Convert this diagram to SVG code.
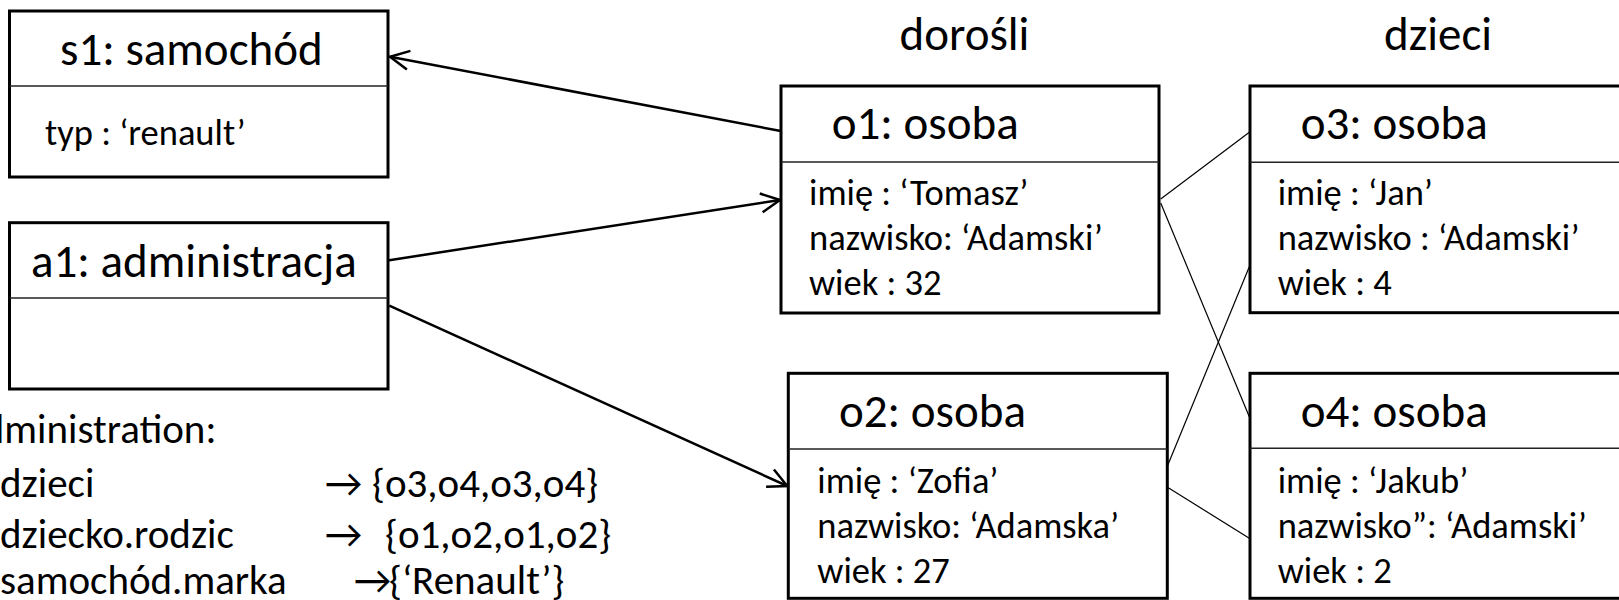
<svg xmlns="http://www.w3.org/2000/svg" width="1619" height="600" viewBox="0 0 1619 600">
<style>
text { font-family: Carlito, Calibri, Lato, "Liberation Sans", sans-serif; fill: #000; }
.box { fill: #fff; stroke: #000; stroke-width: 3; }
.div { stroke: #222; stroke-width: 1.6; }
.title { font-size: 47px; }
.body { font-size: 36.5px; }
.hdr { font-size: 47px; text-anchor: middle; }
.note { font-size: 41px; }
.conn { stroke: #000; stroke-width: 2.5; fill: none; }
.link { stroke: #000; stroke-width: 1.2; fill: none; }
</style>
<defs>
<marker id="open" viewBox="-22 -12 24 24" markerWidth="24" markerHeight="24" refX="0" refY="0" orient="auto" markerUnits="userSpaceOnUse" overflow="visible">
<path d="M-19,-9.5 L0,0 L-19,9.5" fill="none" stroke="#000" stroke-width="2.5"/>
</marker>
</defs>
<rect width="1619" height="600" fill="#fff"/>

<g id="headers">
<text class="hdr" x="964.5" y="50">dorośli</text>
<text class="hdr" x="1438" y="50">dzieci</text>
</g>

<g id="connectors">
<line class="conn" x1="780.7" y1="131" x2="390" y2="56.7" marker-end="url(#open)"/>
<line class="conn" x1="386" y1="260.7" x2="780" y2="200" marker-end="url(#open)"/>
<line class="conn" x1="389.3" y1="305.7" x2="787.3" y2="486" marker-end="url(#open)"/>
<line class="link" x1="1160.7" y1="199" x2="1250" y2="131.7"/>
<line class="link" x1="1160.7" y1="203" x2="1249.3" y2="416.7"/>
<line class="link" x1="1159.3" y1="485.7" x2="1249.3" y2="266.7"/>
<line class="link" x1="1168.3" y1="487.7" x2="1249.3" y2="538.3"/>
</g>

<g id="s1">
<rect class="box" x="9.5" y="11" width="378.5" height="166"/>
<line class="div" x1="9.5" y1="86" x2="388" y2="86"/>
<text class="title" x="60" y="65">s1: samochód</text>
<text class="body" x="45" y="145">typ : ‘renault’</text>
</g>

<g id="a1">
<rect class="box" x="9.5" y="222.7" width="378.5" height="166.3"/>
<line class="div" x1="9.5" y1="298" x2="388" y2="298"/>
<text class="title" x="31" y="276.7">a1: administracja</text>
</g>

<g id="o1">
<rect class="box" x="781" y="86" width="378" height="227"/>
<line class="div" x1="781" y1="162" x2="1159" y2="162"/>
<text class="title" x="831.7" y="139.3">o1: osoba</text>
<text class="body" x="809" y="205">imię : ‘Tomasz’</text>
<text class="body" x="809" y="250">nazwisko: ‘Adamski’</text>
<text class="body" x="809" y="295">wiek : 32</text>
</g>

<g id="o2">
<rect class="box" x="788.3" y="373.3" width="379" height="225"/>
<line class="div" x1="788.3" y1="449" x2="1167.3" y2="449"/>
<text class="title" x="839" y="427.3">o2: osoba</text>
<text class="body" x="817.3" y="493.3">imię : ‘Zofia’</text>
<text class="body" x="817.3" y="538.3">nazwisko: ‘Adamska’</text>
<text class="body" x="817.3" y="583.3">wiek : 27</text>
</g>

<g id="o3">
<rect class="box" x="1250" y="86" width="378" height="226.7"/>
<line class="div" x1="1250" y1="162.3" x2="1628" y2="162.3"/>
<text class="title" x="1300.7" y="139.3">o3: osoba</text>
<text class="body" x="1277.7" y="205">imię : ‘Jan’</text>
<text class="body" x="1277.7" y="250">nazwisko : ‘Adamski’</text>
<text class="body" x="1277.7" y="295">wiek : 4</text>
</g>

<g id="o4">
<rect class="box" x="1250" y="373.3" width="378" height="225"/>
<line class="div" x1="1250" y1="448.3" x2="1628" y2="448.3"/>
<text class="title" x="1300.7" y="427.3">o4: osoba</text>
<text class="body" x="1277.7" y="493.3">imię : ‘Jakub’</text>
<text class="body" x="1277.7" y="538.3">nazwisko”: ‘Adamski’</text>
<text class="body" x="1277.7" y="583.3">wiek : 2</text>
</g>

<g id="notes">
<text class="note" x="-41" y="443">Administration:</text>
<text class="note" y="497"><tspan x="0">dzieci</tspan><tspan x="325">→</tspan><tspan x="372">{o3,o4,o3,o4}</tspan></text>
<text class="note" y="548"><tspan x="0">dziecko.rodzic</tspan><tspan x="325">→</tspan><tspan x="385">{o1,o2,o1,o2}</tspan></text>
<text class="note" y="594"><tspan x="0">samochód.marka</tspan><tspan x="354">→</tspan><tspan x="389">{‘Renault’}</tspan></text>
</g>
</svg>
